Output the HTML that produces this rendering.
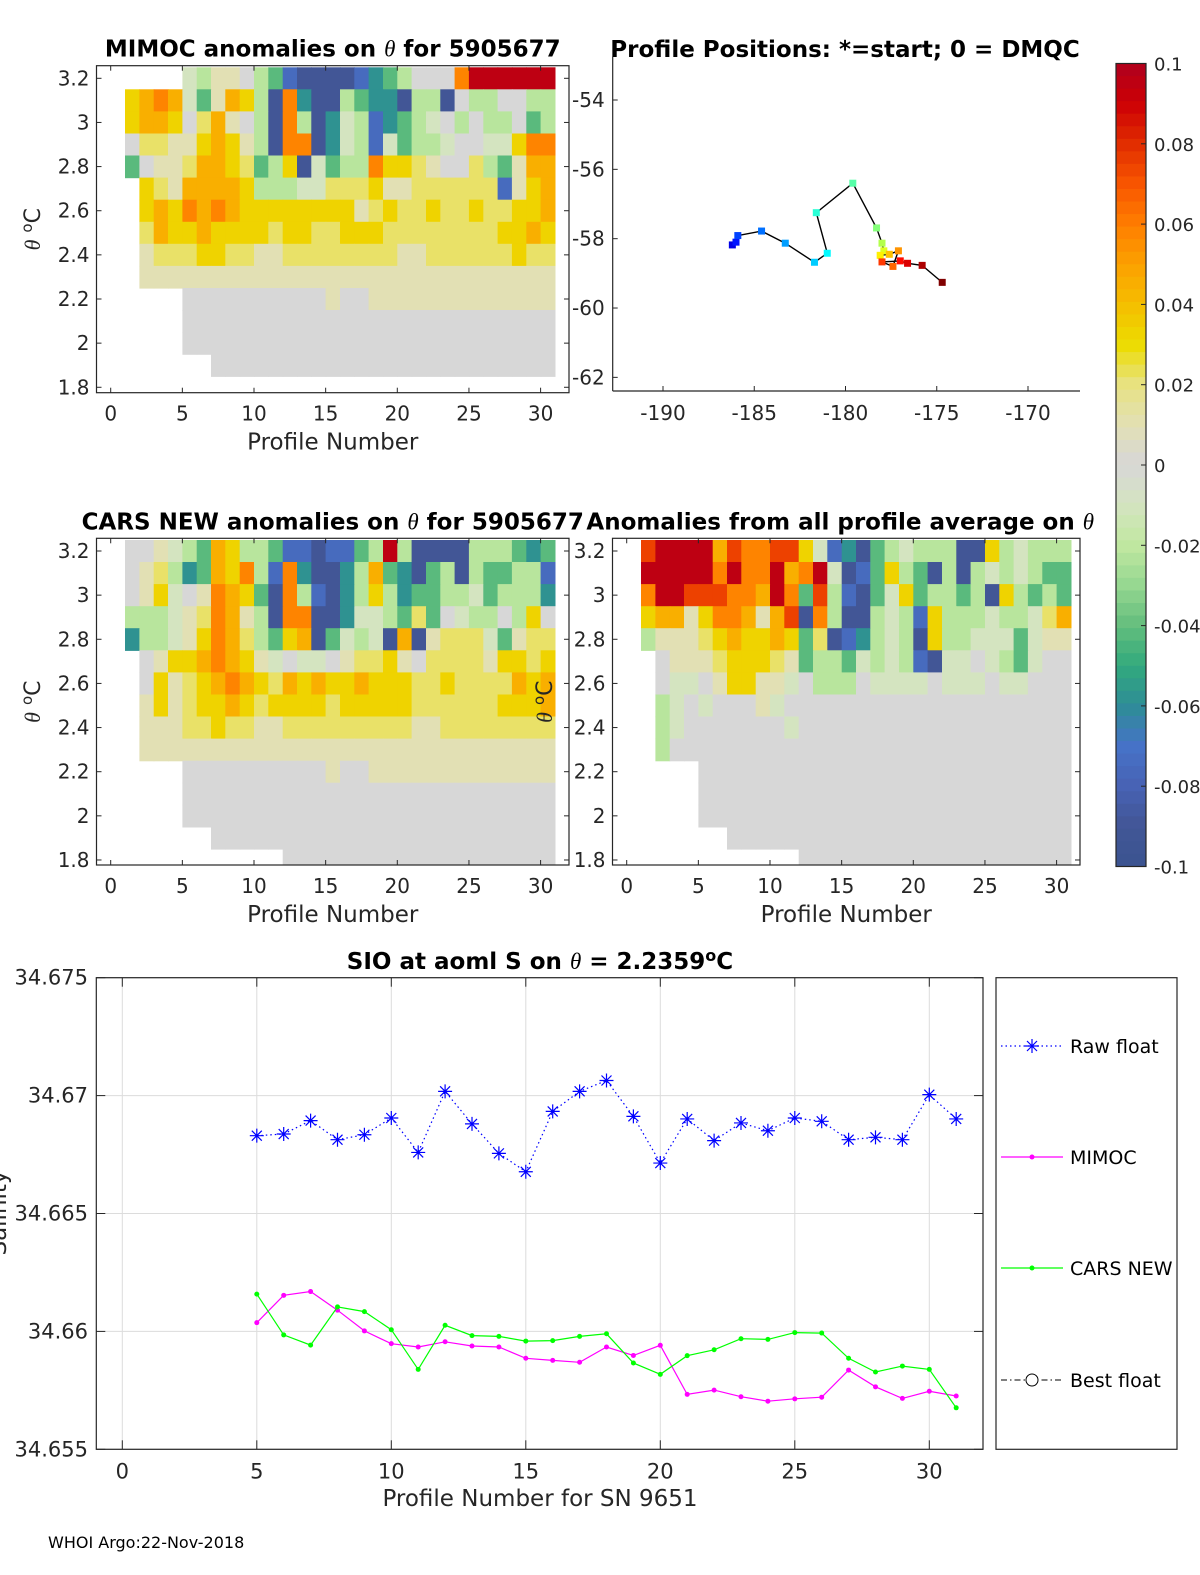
<!DOCTYPE html>
<html><head><meta charset="utf-8"><style>
html,body{margin:0;padding:0;background:#fff}
svg{display:block;font-family:"DejaVu Sans","Liberation Sans",sans-serif}
</style></head><body>
<svg id="fig" width="1200" height="1575" viewBox="0 0 1200 1575" xmlns="http://www.w3.org/2000/svg">
<rect width="1200" height="1575" fill="#fff"/>
<g id="layer"></g>
</svg>
<script>
// ---------- data ----------
const salProfiles = [5,6,7,8,9,10,11,12,13,14,15,16,17,18,19,20,21,22,23,24,25,26,27,28,29,30,31];
const rawFloat = [34.66830,34.66837,34.66894,34.66813,34.66834,34.66905,34.66759,34.67018,34.66880,34.66755,34.66677,34.66933,34.67018,34.67064,34.66912,34.66714,34.66901,34.66809,34.66884,34.66851,34.66905,34.66891,34.66813,34.66823,34.66813,34.67004,34.66901];
const mimocSal = [34.66037,34.66153,34.66169,34.66090,34.66002,34.65948,34.65934,34.65956,34.65938,34.65934,34.65886,34.65877,34.65869,34.65934,34.65898,34.65941,34.65733,34.65751,34.65723,34.65704,34.65714,34.65721,34.65836,34.65765,34.65716,34.65746,34.65726];
const carsSal = [34.66158,34.65985,34.65942,34.66104,34.66084,34.66007,34.65839,34.66026,34.65982,34.65979,34.65959,34.65961,34.65979,34.65990,34.65866,34.65818,34.65897,34.65922,34.65969,34.65966,34.65995,34.65993,34.65886,34.65828,34.65853,34.65839,34.65676];
const salYTicks = [34.655,34.66,34.665,34.67,34.675];
const salYLabels = ["34.655","34.66","34.665","34.67","34.675"];
const profTicks = [0,5,10,15,20,25,30];
const thetaTicks = [1.8,2,2.2,2.4,2.6,2.8,3,3.2];
const thetaLabels = ["1.8","2","2.2","2.4","2.6","2.8","3","3.2"];
const mapLon = [-186.2,-186.0,-185.9,-184.6,-183.3,-181.7,-181.0,-181.6,-179.6,-178.3,-178.0,-177.9,-178.1,-177.6,-177.1,-177.4,-178.0,-177.0,-176.6,-175.8,-174.7];
const mapLat = [-58.18,-58.10,-57.91,-57.78,-58.13,-58.68,-58.42,-57.25,-56.40,-57.69,-58.13,-58.35,-58.48,-58.45,-58.35,-58.80,-58.67,-58.64,-58.71,-58.77,-59.26];
const lonTicks = [-190,-185,-180,-175,-170];
const latTicks = [-54,-56,-58,-60,-62];
const cbTicks = [-0.1,-0.08,-0.06,-0.04,-0.02,0,0.02,0.04,0.06,0.08,0.1];
const cbLabels = ["-0.1","-0.08","-0.06","-0.04","-0.02","0","0.02","0.04","0.06","0.08","0.1"];
const codeVals = {B:-0.09,b:-0.075,t:-0.058,g:-0.042,l:-0.022,p:-0.01,'.':0,c:0.01,y:0.022,Y:0.033,o:0.045,O:0.058,r:0.075,R:0.095};
const mimocGrid = [
"    plcc.lgbBBBBbtgl...ORRRRRR",
"YoOopgcoYlBOtBBlgttBllB.ll..ll",
"YooY.yoc.lBOlBtplbtglp.l.ll.gl",
".yyccYoYclBOOBtplbpgllp..ppYOO",
"g.ccyooYyglYBpgllOYYyc..ylgcoo",
" YycooooYlllppyyyYccyyyyyybcYo",
" YoYOoOoYYYYYYYYcyYyyYyyYyyYYo",
" yoYYoYYYYyYYyyYYYyyyyyyyyYYoY",
" cyyyYYyyccyyyyyyyyccyyyyyyYyy",
" ccccccccccccccccccccccccccccc",
"    ..........c..ccccccccccccc",
"    ..........................",
"    ..........................",
"      ........................",
"                              "];
const carsGrid = [
"..cplgoYllgbbBbbglRlBBBBlllgtg",
".cyltgoYOlbOtBBtlogtBglBlggllb",
".cYp.cOoYgBOlbBtlYltggllpglllt",
"lllpcyOoclBOOBBtpplgyg.pll.lY.",
"tllpcYOoylgYoBgplpBoBcyyypgcyy",
" .cYYoOoYcp.pp.cyyYc.yyyycYYyY",
" .YcyYoOoYyoYoYYoYYYyyYyyyyoYo",
" cYcyYYoYyYYYYyYYYYYyyyyyyYYYo",
" cccyyYyyccyyyyyyyyyccyyyyyyyy",
" ccccccccccccccccccccccccccccc",
"    ..........c..ccccccccccccc",
"    ..........................",
"    ..........................",
"      ........................",
"           ..................."];
const avgGrid = [
"rRRRRorOOrrYpbtBglplllBBYlplll",
"RRRRROROORoORpBbgYlgBlBlplplgg",
"ORRrrrOOoROgrlbBgpYgllglBYlglg",
"YoocYOOocorBOlBBlplbYlllpllpyo",
"lcccyYoYYoYgyBbtlplBYllpppgpcc",
" .cccyYYYycgllgplplbBpp.plgp..",
" .pp.cYYccp.lll.pppp.ppp.pp...",
" lp.p...cp....................",
" lp.......p...................",
" l............................",
"    ..........................",
"    ..........................",
"    ..........................",
"      ........................",
"           ..................."];
// ---------- helpers ----------
const NS="http://www.w3.org/2000/svg";
const layer=document.getElementById('layer');
function mk(tag,attrs,parent){const e=document.createElementNS(NS,tag);for(const k in attrs)e.setAttribute(k,attrs[k]);(parent||layer).appendChild(e);return e;}
function txt(s,x,y,size,anchor,parent,extra){const e=mk('text',Object.assign({x:x,y:y,'font-size':size,'text-anchor':anchor||'middle',fill:'#262626'},extra||{}),parent);e.textContent=s;return e;}
const stops=[[-0.1,[59,84,144]],[-0.09,[66,86,150]],[-0.08,[72,98,180]],[-0.07,[70,115,200]],[-0.06,[46,140,150]],[-0.05,[50,170,125]],[-0.04,[100,190,125]],[-0.03,[150,215,145]],[-0.02,[192,232,160]],[-0.01,[212,228,192]],[0,[215,215,215]],[0.01,[226,224,180]],[0.02,[232,226,130]],[0.03,[236,220,0]],[0.04,[245,190,0]],[0.05,[252,160,0]],[0.06,[255,125,0]],[0.07,[248,85,0]],[0.08,[225,45,0]],[0.09,[205,0,5]],[0.1,[175,0,30]]];
function cmap(v){v=Math.max(-0.1,Math.min(0.1,v));for(let i=0;i<stops.length-1;i++){const a=stops[i],b=stops[i+1];if(v<=b[0]){const t=(v-a[0])/(b[0]-a[0]);const c=a[1].map((x,j)=>Math.round(x+(b[1][j]-x)*t));return 'rgb('+c.join(',')+')';}}return 'rgb(175,0,30)';}
function jet(t){const r=Math.min(1,Math.max(0,1.5-Math.abs(4*t-3))),g=Math.min(1,Math.max(0,1.5-Math.abs(4*t-2))),b=Math.min(1,Math.max(0,1.5-Math.abs(4*t-1)));return 'rgb('+[r,g,b].map(x=>Math.round(x*255)).join(',')+')';}

// ---------- heatmap panels ----------
function heatPanel(cfg){
  const g=mk('g',{});
  
  
  const X=p=>cfg.x0+p*14.33, Y=th=>cfg.y32+(3.2-th)*220.7;
  const cid='clip'+cfg.name;
  const cp=mk('clipPath',{id:cid},g);mk('rect',{x:cfg.L,y:cfg.T,width:cfg.R-cfg.L,height:cfg.B-cfg.T},cp);
  const cells=mk('g',{'clip-path':'url(#'+cid+')'},g);
  cfg.grid.forEach((row,k)=>{
    for(let i=0;i<30;i++){const ch=row[i];if(!ch||ch===' ')continue;
      const x1=X(i+1),x2=X(i+2),yt=Y(3.25-0.1*k),yb=Y(3.15-0.1*k);
      const r=mk('rect',{x:x1.toFixed(1),y:yt.toFixed(1),width:(x2-x1+0.6).toFixed(1),height:(yb-yt+0.6).toFixed(1),fill:cmap(codeVals[ch])},cells);
      
      
    }
  });
  mk('rect',{x:cfg.L,y:cfg.T,width:cfg.R-cfg.L,height:cfg.B-cfg.T,fill:'none',stroke:'#262626','stroke-width':1.2},g);
  profTicks.forEach(p=>{const x=X(p);mk('line',{x1:x,x2:x,y1:cfg.B,y2:cfg.B-5,stroke:'#262626'},g);mk('line',{x1:x,x2:x,y1:cfg.T,y2:cfg.T+5,stroke:'#262626'},g);
    const t=txt(String(p),x,cfg.B+28,20,'middle',g);});
  thetaTicks.forEach((th,i)=>{const y=Y(th);mk('line',{x1:cfg.L,x2:cfg.L+5,y1:y,y2:y,stroke:'#262626'},g);mk('line',{x1:cfg.R,x2:cfg.R-5,y1:y,y2:y,stroke:'#262626'},g);
    const t=txt(thetaLabels[i],cfg.L-7,y+7,20,'end',g);});
  const ti=txt('',(cfg.L+cfg.R)/2-(cfg.titleShift||0),cfg.T-9,23,'middle',g,{'font-weight':'bold',fill:'#000'});ti.innerHTML=cfg.title;
  
  const xl=txt('Profile Number',(cfg.L+cfg.R)/2,cfg.B+57,23,'middle',g);
  if(cfg.ylab){const yl=mk('text',{x:0,y:0,'font-size':22,'text-anchor':'middle',fill:'#262626',transform:'translate('+cfg.ylabX+','+((cfg.T+cfg.B)/2)+') rotate(-90)'},g);yl.innerHTML='<tspan font-style="italic" font-family="Liberation Serif">θ</tspan> <tspan dy="-8" font-size="15">o</tspan><tspan dy="8">C</tspan>';
    }
}
heatPanel({name:'mimoc-anomaly-panel',grid:mimocGrid,x0:110.7,y32:78.3,L:96.5,R:569,T:65.7,B:392.7,title:'MIMOC anomalies on <tspan font-style="italic" font-weight="normal" font-family="Liberation Serif">θ</tspan>  for 5905677',ylab:true,ylabX:40});
heatPanel({name:'cars-anomaly-panel',grid:carsGrid,x0:110.7,y32:551,L:96.5,R:569,T:538.3,B:865,title:'CARS NEW anomalies on <tspan font-style="italic" font-weight="normal" font-family="Liberation Serif">θ</tspan> for 5905677',ylab:true,ylabX:40});
heatPanel({name:'profile-average-anomaly-panel',grid:avgGrid,x0:626.7,y32:551,L:612.5,R:1080,T:538.3,B:865,title:'Anomalies from all profile average on <tspan font-style="italic" font-weight="normal" font-family="Liberation Serif">θ</tspan>',ylab:true,ylabX:552,titleShift:6});

// ---------- map ----------
(function(){
  const g=mk('g',{});
  const L=612.7,R=1080,T=56.7,B=391;
  const X=lon=>663+(lon+190)*18.25, Y=lat=>100+(-54-lat)*34.67;
  mk('line',{x1:L,x2:L,y1:T,y2:B,stroke:'#262626','stroke-width':1.2},g);
  mk('line',{x1:L,x2:R,y1:B,y2:B,stroke:'#262626','stroke-width':1.2},g);
  lonTicks.forEach(v=>{const x=X(v);mk('line',{x1:x,x2:x,y1:B,y2:B-5,stroke:'#262626'},g);const t=txt(String(v),x,B+29,20,'middle',g);});
  latTicks.forEach(v=>{const y=Y(v);mk('line',{x1:L,x2:L+5,y1:y,y2:y,stroke:'#262626'},g);const t=txt(String(v),L-8,y+7,20,'end',g);});
  const pts=mapLon.map((lon,i)=>X(lon).toFixed(1)+','+Y(mapLat[i]).toFixed(1)).join(' ');
  const pl=mk('polyline',{points:pts,fill:'none',stroke:'#000','stroke-width':1.4},g);
  
  mapLon.forEach((lon,i)=>{const t=i/(mapLon.length-1);const r=mk('rect',{x:X(lon)-3.5,y:Y(mapLat[i])-3.5,width:7,height:7,fill:jet(0.1+0.9*t)},g);
    });
  const ti=txt('Profile Positions: *=start; 0 = DMQC',845,57,23,'middle',g,{'font-weight':'bold',fill:'#000'});
  
})();

// ---------- colorbar ----------
(function(){
  const g=mk('g',{});
  const L=1116,R=1146,T=63.5,B=866.5;const Y=v=>T+(0.1-v)/0.2*(B-T);
  for(let i=0;i<64;i++){const v1=0.1-i*0.2/64;const y1=Y(v1),y2=Y(v1-0.2/64);
    mk('rect',{x:L,y:y1.toFixed(2),width:R-L,height:(y2-y1+0.5).toFixed(2),fill:cmap(v1-0.1/64)},g);}
  mk('rect',{x:L,y:T,width:R-L,height:B-T,fill:'none',stroke:'#262626','stroke-width':1.2},g);
  cbTicks.forEach((v,i)=>{const y=Y(v);mk('line',{x1:R,x2:R-5,y1:y,y2:y,stroke:'#262626'},g);
    const t=txt(cbLabels[i],1154,y+7,18,'start',g);});
})();

// ---------- salinity chart ----------
(function(){
  const g=mk('g',{});
  const L=96.3,R=983,T=977.7,B=1449.3;
  const X=p=>122.3+p*26.9, Y=s=>T+(34.675-s)/0.02*(B-T);
  profTicks.forEach(p=>{const x=X(p);mk('line',{x1:x,x2:x,y1:T,y2:B,stroke:'#dcdcdc'},g);});
  salYTicks.forEach(s=>{const y=Y(s);mk('line',{x1:L,x2:R,y1:y,y2:y,stroke:'#dcdcdc'},g);});
  mk('rect',{x:L,y:T,width:R-L,height:B-T,fill:'none',stroke:'#262626','stroke-width':1.2},g);
  profTicks.forEach(p=>{const x=X(p);mk('line',{x1:x,x2:x,y1:B,y2:B-9,stroke:'#262626'},g);mk('line',{x1:x,x2:x,y1:T,y2:T+9,stroke:'#262626'},g);
    const t=txt(String(p),x,B+29,21,'middle',g);});
  salYTicks.forEach((s,i)=>{const y=Y(s);mk('line',{x1:L,x2:L+9,y1:y,y2:y,stroke:'#262626'},g);mk('line',{x1:R,x2:R-9,y1:y,y2:y,stroke:'#262626'},g);
    const t=txt(salYLabels[i],88,y+7,21,'end',g);});
  function series(vals,color,dash,name,marker){
    const pts=salProfiles.map((p,i)=>X(p).toFixed(1)+','+Y(vals[i]).toFixed(1)).join(' ');
    const pl=mk('polyline',Object.assign({points:pts,fill:'none',stroke:color,'stroke-width':1.2},dash?{'stroke-dasharray':dash}:{}),g);
    
    salProfiles.forEach((p,i)=>{const x=X(p),y=Y(vals[i]);
      if(marker==='star'){const m=mk('path',{d:`M${x-7},${y}H${x+7}M${x},${y-7}V${y+7}M${x-5},${y-5}L${x+5},${y+5}M${x-5},${y+5}L${x+5},${y-5}`,stroke:color,'stroke-width':1.2,fill:'none'},g);
        }
      else{const m=mk('circle',{cx:x,cy:y,r:2.5,fill:color},g);}
    });
  }
  series(rawFloat,'#0000ff','1.5 3','raw-float','star');
  series(mimocSal,'#ff00ff',null,'mimoc','dot');
  series(carsSal,'#00ff00',null,'cars-new','dot');
  const ti=txt('',540,969,23,'middle',g,{'font-weight':'bold',fill:'#000'});
  ti.innerHTML='SIO at aoml S on <tspan font-style="italic" font-weight="normal" font-family="Liberation Serif">θ</tspan> = 2.2359<tspan dy="-8" font-size="16">o</tspan><tspan dy="8">C</tspan>';
  
  const xl=txt('Profile Number for SN 9651',540,1506,23,'middle',g);
  const yl=mk('text',{x:0,y:0,'font-size':23,'text-anchor':'middle',fill:'#262626',transform:'translate(6,1213) rotate(-90)'},g);yl.textContent='Salinity';
  
  const lg=mk('g',{},g);
  mk('rect',{x:996,y:T,width:181,height:B-T,fill:'#fff',stroke:'#262626','stroke-width':1.2},lg);
  const entries=[['Raw float',1046],['MIMOC',1157],['CARS NEW',1268],['Best float',1380]];
  entries.forEach((e,i)=>{const y=e[1];const eg=mk('g',{},lg);
    if(i===0){mk('line',{x1:1001,x2:1063,y1:y,y2:y,stroke:'#0000ff','stroke-dasharray':'1.5 3','stroke-width':1.2},eg);
      mk('path',{d:`M1025,${y}H1039M1032,${y-7}V${y+7}M1027,${y-5}L1037,${y+5}M1027,${y+5}L1037,${y-5}`,stroke:'#0000ff','stroke-width':1.2},eg);}
    else if(i===1){mk('line',{x1:1001,x2:1063,y1:y,y2:y,stroke:'#ff00ff','stroke-width':1.2},eg);mk('circle',{cx:1032,cy:y,r:2.5,fill:'#ff00ff'},eg);}
    else if(i===2){mk('line',{x1:1001,x2:1063,y1:y,y2:y,stroke:'#00ff00','stroke-width':1.2},eg);mk('circle',{cx:1032,cy:y,r:2.5,fill:'#00ff00'},eg);}
    else{mk('line',{x1:1001,x2:1063,y1:y,y2:y,stroke:'#000','stroke-dasharray':'6 3 1.5 3','stroke-width':1},eg);mk('circle',{cx:1032,cy:y,r:6,fill:'#fff',stroke:'#000'},eg);}
    const t=txt(e[0],1070,y+7,19,'start',eg,{fill:'#000'});
  });
})();
const ft=txt('WHOI Argo:22-Nov-2018',48,1548,16,'start',null,{fill:'#000'});


</script>
</body></html>
